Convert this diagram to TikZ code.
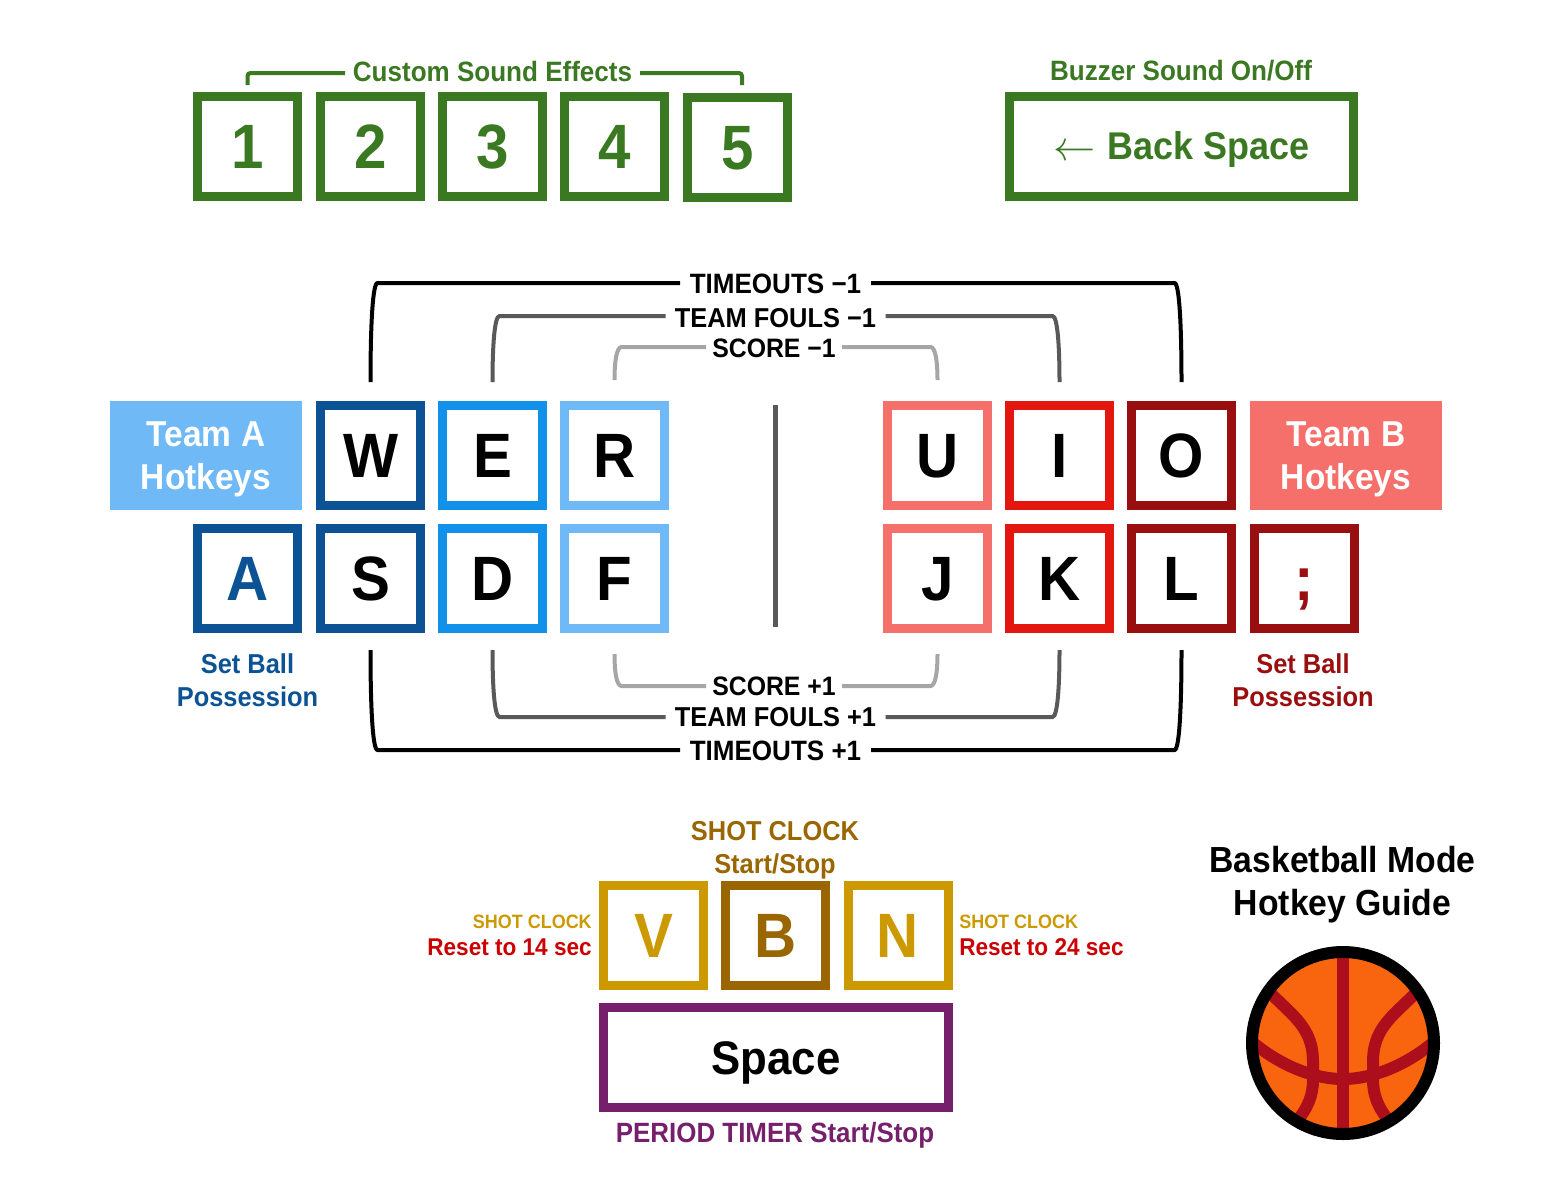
\documentclass[tikz,border=0pt]{standalone}
\usepackage{fontspec}
\setmainfont{Liberation Sans}[FakeStretch=0.93]
\usetikzlibrary{calc}
\definecolor{cgreen}{HTML}{3A7822}
\definecolor{bdark}{HTML}{0B5394}
\definecolor{bmid}{HTML}{1191EA}
\definecolor{blight}{HTML}{6FB9F6}
\definecolor{rlight}{HTML}{F56F6B}
\definecolor{rmid}{HTML}{E3170F}
\definecolor{rdark}{HTML}{990F0F}
\definecolor{cyellow}{HTML}{CC9900}
\definecolor{cbrown}{HTML}{996600}
\definecolor{cpurple}{HTML}{761F6B}
\definecolor{cred}{HTML}{CC0000}
\definecolor{gmid}{HTML}{595959}
\definecolor{glight}{HTML}{A6A6A6}
\definecolor{ballorange}{HTML}{F9650E}
\definecolor{ballred}{HTML}{AD0E1C}
\newcommand\fs[2]{\fontsize{#1}{#2}\selectfont\bfseries}
\tikzset{
 keybox/.style={draw=#1,line width=6.75pt,minimum width=75pt,minimum height=75pt,inner sep=0pt,outer sep=0pt,
   text height=33pt,text depth=0pt,font=\fs{47}{56},fill=white},
 widebox/.style={keybox=#1,font=\fs{29}{34},text height=19.5pt},
 teambox/.style={fill=#1,minimum width=144pt,minimum height=81.75pt,inner sep=0pt,outer sep=0pt,text=white,
   align=center,font=\fs{27}{32.25}},
 lab/.style={inner sep=0pt,outer sep=0pt,text height=13.5pt,text depth=0pt,font=\fs{21}{25}},
 para/.style={inner sep=0pt,outer sep=0pt,align=center,font=\fs{20.5}{24.75}},
 brk/.style={line width=3pt,draw=#1},
}
\begin{document}
\begin{tikzpicture}[x=0.75pt,y=-0.75pt]
\useasboundingbox (0,0) rectangle (1552,1200);
% sound keys
\foreach \n/\x/\yy in {1/247.5/146.5,2/370.5/146.5,3/492.5/146.5,4/614.5/146.5,5/737.5/147.5}
  \node[keybox=cgreen,text=cgreen] (k\n) at (\x,\yy) {\n};
\node[keybox=cgreen,widebox=cgreen,text=cgreen,minimum width=258pt] (kBack) at (1181.5,146.5) {\raisebox{-1pt}{\scalebox{1.27}{$\leftarrow$}}\ \kern1pt Back Space};
\node[lab,text=cgreen,minimum width=221.25pt,text height=13pt] (lCustom) at (492.5,73) {Custom Sound Effects};
\node[lab,text=cgreen] (lBuzz) at (1181,71) {Buzzer Sound On/Off};
\coordinate (c1) at (k1.center |- 0,85);
\coordinate (c5) at (742,85);
\draw[brk=cgreen,rounded corners=2.25pt] (c1) -- (c1 |- lCustom.west) -- (lCustom.west);
\draw[brk=cgreen,rounded corners=2.25pt] (c5) -- (c5 |- lCustom.east) -- (lCustom.east);
% letter keys
\node[teambox=blight] (tA) at (206,455.5) {\rule{0pt}{24pt}Team A\\Hotkeys};
\node[teambox=rlight] (tB) at (1346,455.5) {\rule{0pt}{24pt}Team B\\Hotkeys};
\foreach \n/\t/\c/\x/\yy in {W/W/bdark/370.5/455.5,E/E/bmid/492.5/455.5,R/R/blight/614.5/455.5,
  U/U/rlight/937.5/455.5,I/I/rmid/1059.5/455.5,O/O/rdark/1181.5/455.5,
  S/S/bdark/370.5/578.5,D/D/bmid/492.5/578.5,F/F/blight/614.5/578.5,
  J/J/rlight/937.5/578.5,K/K/rmid/1059.5/578.5,L/L/rdark/1181.5/578.5}
  \node[keybox=\c] (k\n) at (\x,\yy) {\t};
\node[keybox=bdark,text=bdark] (kA) at (247.5,578.5) {A};
\node[keybox=rdark,text=rdark] (kSemi) at (1304.5,578.5) {;};
\coordinate (mT) at (775,405);
\coordinate (mB) at (775,627);
\draw[line width=3.75pt,gmid] (mT) -- (mB);
\node[para,text=bdark] (lSetA) at (247.5,680) {Set Ball\\Possession};
\node[para,text=rdark] (lSetB) at (1303,680) {Set Ball\\Possession};
% labels of the brackets
\node[lab,minimum width=143.25pt,text height=15pt] (lTOm) at (775.5,283) {TIMEOUTS −1};
\node[lab,minimum width=165pt,text height=16.5pt,font=\fs{20.5}{25}] (lTFm) at (775.5,316) {TEAM FOULS −1};
\node[lab,minimum width=102pt,text height=15pt,font=\fs{20}{25}] (lSm) at (774,347) {SCORE −1};
\node[lab,minimum width=102pt,font=\fs{20}{25}] (lSp) at (774,686) {SCORE +1};
\node[lab,minimum width=165pt,font=\fs{20.5}{25}] (lTFp) at (775.5,717) {TEAM FOULS +1};
\node[lab,minimum width=143.25pt,text height=15pt] (lTOp) at (775.5,750) {TIMEOUTS +1};
% top brackets
\foreach \a/\b/\l/\c/\yy/\h in {W/O/lTOm/black/382/99,E/I/lTFm/gmid/382/66,R/U/lSm/glight/380/33}{
  \coordinate (a\a) at (k\a.center |- 0,\yy);
  \coordinate (a\b) at (k\b.center |- 0,\yy);
  \draw[brk=\c] (a\a) .. controls +(0,-0.55*\h) and +(-5,0) .. +(7,-\h) -- (\l.west);
  \draw[brk=\c] (a\b) .. controls +(0,-0.55*\h) and +(5,0) .. +(-7,-\h) -- (\l.east);
}
% bottom brackets
\foreach \a/\b/\l/\c/\yy/\h in {S/L/lTOp/black/650/100,D/K/lTFp/gmid/650/67,F/J/lSp/glight/654/32}{
  \coordinate (b\a) at (k\a.center |- 0,\yy);
  \coordinate (b\b) at (k\b.center |- 0,\yy);
  \draw[brk=\c] (b\a) .. controls +(0,0.55*\h) and +(-5,0) .. +(7,\h) -- (\l.west);
  \draw[brk=\c] (b\b) .. controls +(0,0.55*\h) and +(5,0) .. +(-7,\h) -- (\l.east);
}
% shot clock
\node[para,text=cbrown] (lShot) at (775,850.5) {SHOT CLOCK\\Start/Stop};
\node[keybox=cyellow,text=cyellow] (kV) at (653.5,935.5) {V};
\node[keybox=cbrown,text=cbrown] (kB) at (775.5,935.5) {B};
\node[keybox=cyellow,text=cyellow] (kN) at (898,935.5) {N};
\node[keybox=cpurple,minimum width=258.75pt,font=\fs{35.3}{40},text height=25pt] (kSpace) at (776,1057.5) {Space};
\node[para,text=cpurple,font=\fs{20.9}{25}] (lPeriod) at (775,1135) {PERIOD TIMER Start/Stop};
\node[anchor=base east,inner sep=0pt,text=cyellow,font=\fs{14.5}{18}] (lV1) at (592,928) {SHOT CLOCK};
\node[anchor=base east,inner sep=0pt,text=cred,font=\fs{18.2}{22}] (lV2) at (592,955) {Reset to 14 sec};
\node[anchor=base west,inner sep=0pt,text=cyellow,font=\fs{14.5}{18}] (lN1) at (959,928) {SHOT CLOCK};
\node[anchor=base west,inner sep=0pt,text=cred,font=\fs{18.2}{22}] (lN2) at (959,955) {Reset to 24 sec};
% title
\node[inner sep=0pt,align=center,font=\fs{27.2}{32.25}] (title) at (1342.5,885) {Basketball Mode\\Hotkey Guide};
% ball
\coordinate (ball) at (1343,1043);
\fill[ballorange] (ball) circle[radius=91];
\begin{scope}
\clip (ball) circle[radius=91];
\draw[line width=9pt,ballred] (1343,950) -- (1343,1136);
\draw[line width=9pt,ballred] (1250,1040) .. controls (1275,1062) and (1310,1079) .. (1343,1079) .. controls (1376,1079) and (1411,1062) .. (1436,1040);
\draw[line width=9pt,ballred] (1265,988) -- (1290,1012) .. controls (1305,1027) and (1313,1040) .. (1313,1062) -- (1313,1080) .. controls (1313,1095) and (1308,1108) .. (1296,1122);
\draw[line width=9pt,ballred] (1421,988) -- (1396,1012) .. controls (1381,1027) and (1373,1040) .. (1373,1062) -- (1373,1080) .. controls (1373,1095) and (1378,1108) .. (1390,1122);
\end{scope}
\draw[line width=9pt] (ball) circle[radius=91];
\end{tikzpicture}
\end{document}
